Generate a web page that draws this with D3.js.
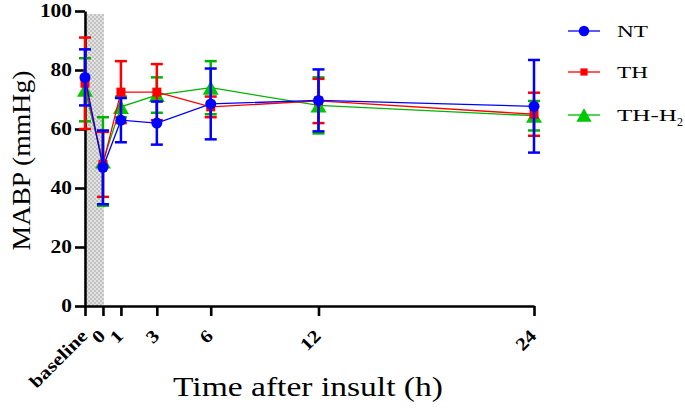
<!DOCTYPE html>
<html>
<head>
<meta charset="utf-8">
<script src="https://cdn.jsdelivr.net/npm/d3@7"></script>
<style>
  html, body { margin: 0; padding: 0; background: #fff; }
  svg { display: block; }
</style>
</head>
<body>
<svg id="chart" width="685" height="409"></svg>
<script>
// ---- data ----
const timePoints = [-1, 0, 1, 3, 6, 12, 24];
const tickLabels = ["baseline", "0", "1", "3", "6", "12", "24"];
const yTicks = [0, 20, 40, 60, 80, 100];

const ntMean  = [77.5, 47.0, 63.0, 62.0, 68.5, 69.7, 67.7];
const ntErr   = [9.5, 12.5, 7.5, 7.3, 12.0, 10.5, 15.7];
const thMean  = [75.5, 48.0, 72.5, 72.5, 67.5, 69.5, 65.0];
const thErr   = [15.5, 11.0, 10.5, 9.5, 3.5, 7.5, 7.3];
const th2Mean = [73.3, 49.0, 67.5, 71.5, 74.0, 68.0, 64.5];
const th2Err  = [10.7, 15.0, 3.5, 6.0, 9.0, 9.5, 5.0];

const seriesNames = ["NT", "TH", "TH-H2"];
const shadeRange = [-1, 0];

// ---- setup ----
const svg = d3.select("#chart");
const x = d3.scaleLinear().domain([-1, 24]).range([85, 534]);
const y = d3.scaleLinear().domain([0, 100]).range([306, 11]);
const SERIF = "'Liberation Serif', Tinos, 'Times New Roman', 'Nimbus Roman', 'Noto Serif', FreeSerif, 'DejaVu Serif', serif";

function fit(sel, w) {
  return sel.attr("textLength", w).attr("lengthAdjust", "spacingAndGlyphs");
}

const series = [
  { name: "TH-H2", mean: th2Mean, err: th2Err, color: "#00b400", fill: "#00c800", shape: "tri" },
  { name: "TH",    mean: thMean,  err: thErr,  color: "#ff0000", fill: "#ff0000", shape: "sq" },
  { name: "NT",    mean: ntMean,  err: ntErr,  color: "#0000ff", fill: "#0000ff", shape: "circ" }
];

// pattern for shaded area
const defs = svg.append("defs");
const pat = defs.append("pattern").attr("id", "hatch").attr("patternUnits", "userSpaceOnUse")
  .attr("width", 4).attr("height", 4);
pat.append("rect").attr("width", 4).attr("height", 4).attr("fill", "#e2e2e2");
pat.append("rect").attr("x", 0).attr("y", 0).attr("width", 2).attr("height", 2).attr("fill", "#c2c2c2");
pat.append("rect").attr("x", 2).attr("y", 2).attr("width", 2).attr("height", 2).attr("fill", "#c2c2c2");

svg.append("rect")
  .attr("x", x(shadeRange[0]) + 2)
  .attr("y", y(99))
  .attr("width", x(shadeRange[1]) - x(shadeRange[0]) - 1)
  .attr("height", y(0) - y(99))
  .attr("fill", "url(#hatch)");

// ---- axes ----
const yAxis = svg.append("g").attr("transform", `translate(${x(-1)},0)`)
  .call(d3.axisLeft(y).tickValues(yTicks).tickSize(10).tickSizeOuter(0).tickPadding(3));
yAxis.select(".domain").attr("stroke", "#000").attr("stroke-width", 2.6);
yAxis.selectAll(".tick line").attr("stroke", "#000").attr("stroke-width", 2.6);
yAxis.selectAll(".tick text")
  .attr("font-family", SERIF)
  .attr("font-weight", "bold").attr("font-size", "18px").attr("fill", "#000")
  .each(function (d) { fit(d3.select(this), String(d).length * 10.7); });

const xAxis = svg.append("g").attr("transform", `translate(0,${y(0)})`)
  .call(d3.axisBottom(x).tickValues(timePoints).tickFormat((d, i) => tickLabels[i])
    .tickSize(10).tickSizeOuter(0));
xAxis.select(".domain").attr("stroke", "#000").attr("stroke-width", 2.6);
xAxis.selectAll(".tick line").attr("stroke", "#000").attr("stroke-width", 2.6);
xAxis.selectAll(".tick text")
  .attr("font-family", SERIF)
  .attr("font-weight", "bold").attr("font-size", "18px").attr("fill", "#000")
  .attr("text-anchor", "end")
  .attr("x", 0).attr("y", 0).attr("dy", 0)
  .attr("transform", "translate(3,31) rotate(-45)")
  .each(function (d, i) {
    const s = tickLabels[i];
    fit(d3.select(this), s.length > 2 ? s.length * 9.2 : s.length * 10.5);
  });

// axis titles
fit(svg.append("text")
  .attr("transform", `translate(30,${(y(0) + y(100)) / 2 + 2}) rotate(-90)`)
  .attr("text-anchor", "middle")
  .attr("font-family", SERIF)
  .attr("font-size", "25px").attr("fill", "#000")
  .text("MABP (mmHg)"), 180);

fit(svg.append("text")
  .attr("x", 173).attr("y", 396)
  .attr("font-family", SERIF)
  .attr("font-size", "28px").attr("fill", "#000")
  .text("Time after insult (h)"), 270);

// ---- markers ----
function drawMarker(g, shape, cx, cy, fill, scale) {
  const s = scale || 1;
  if (shape === "circ") {
    g.append("circle").attr("cx", cx).attr("cy", cy).attr("r", 5.5 * s).attr("fill", fill);
  } else if (shape === "sq") {
    const w = 9 * s;
    g.append("rect").attr("x", cx - w / 2).attr("y", cy - w / 2).attr("width", w).attr("height", w).attr("fill", fill);
  } else {
    const w = 16 * s, h = 14 * s;
    g.append("path")
      .attr("d", `M${cx - w / 2},${cy + h / 2}L${cx + w / 2},${cy + h / 2}L${cx},${cy - h / 2}Z`)
      .attr("fill", fill);
  }
}

// ---- series ----
const line = d3.line().x(d => x(d[0])).y(d => y(d[1]));
series.forEach(s => {
  const g = svg.append("g");
  const pts = timePoints.map((t, i) => [t, s.mean[i], s.err[i]]);
  pts.forEach(p => {
    const cx = x(p[0]);
    g.append("line").attr("x1", cx).attr("x2", cx).attr("y1", y(p[1] - p[2])).attr("y2", y(p[1] + p[2]))
      .attr("stroke", s.color).attr("stroke-width", 2.5);
    [p[1] - p[2], p[1] + p[2]].forEach(v => {
      g.append("line").attr("x1", cx - 6).attr("x2", cx + 6).attr("y1", y(v)).attr("y2", y(v))
        .attr("stroke", s.color).attr("stroke-width", 2.5);
    });
  });
  g.append("path").datum(pts).attr("d", line).attr("fill", "none")
    .attr("stroke", s.color).attr("stroke-width", 1.3);
  pts.forEach(p => drawMarker(g, s.shape, x(p[0]), y(p[1]), s.fill));
});

// ---- legend ----
const legendOrder = [series[2], series[1], series[0]];
const legendY = [31, 72, 115];
legendOrder.forEach((s, i) => {
  const g = svg.append("g");
  const ly = legendY[i];
  g.append("line").attr("x1", 568).attr("x2", 600).attr("y1", ly).attr("y2", ly)
    .attr("stroke", s.color).attr("stroke-width", 1.3);
  drawMarker(g, s.shape, 584, ly, s.fill, s.shape === "sq" ? 0.8 : (s.shape === "circ" ? 0.95 : 0.95));
  const t = g.append("text").attr("x", 617).attr("y", ly + 6)
    .attr("font-family", SERIF)
    .attr("font-size", "17px").attr("fill", "#000");
  if (s.name === "TH-H2") {
    fit(t.text("TH-H"), 60);
    g.append("text").attr("x", 677).attr("y", ly + 11)
      .attr("font-family", SERIF).attr("font-size", "12px").attr("fill", "#000").text("2");
  } else {
    fit(t.text(s.name), 31);
  }
});
</script>
</body>
</html>
